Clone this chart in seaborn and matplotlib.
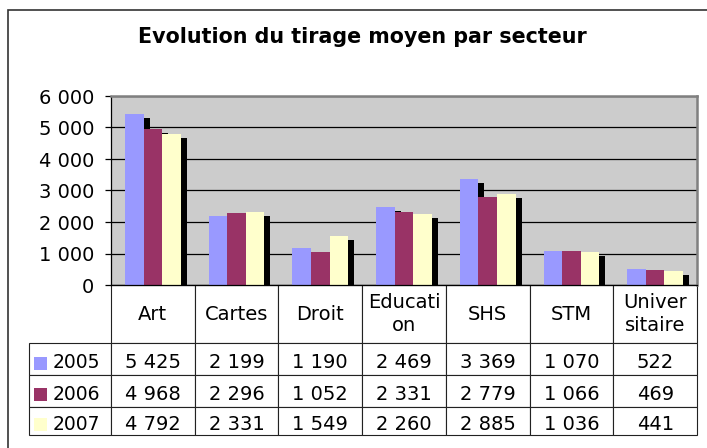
import matplotlib
matplotlib.use("Agg")
import matplotlib.pyplot as plt
import matplotlib.patheffects as pe
import matplotlib.transforms as mtransforms
from matplotlib.patches import Rectangle
from matplotlib.ticker import FuncFormatter, MultipleLocator
import seaborn as sns
import pandas as pd

# ---- data ----
secteurs = ["Art", "Cartes", "Droit", "Education", "SHS", "STM", "Universitaire"]
header_labels = ["Art", "Cartes", "Droit", "Educati\non", "SHS", "STM", "Univer\nsitaire"]
annees = ["2005", "2006", "2007"]
v2005 = [5425, 2199, 1190, 2469, 3369, 1070, 522]
v2006 = [4968, 2296, 1052, 2331, 2779, 1066, 469]
v2007 = [4792, 2331, 1549, 2260, 2885, 1036, 441]
couleurs = ["#9999FF", "#993366", "#FFFFCC"]
titre = "Evolution du tirage moyen par secteur"


def fmt(v):
    return f"{int(round(v)):,}".replace(",", " ")


sns.set_style("white")
plt.rcParams["font.family"] = ["DejaVu Sans"]
plt.rcParams["text.color"] = "black"
plt.rcParams["axes.labelcolor"] = "black"
plt.rcParams["xtick.color"] = "black"
plt.rcParams["ytick.color"] = "black"

W, H = 707, 448
fig = plt.figure(figsize=(W / 100, H / 100), dpi=100)


def fx(px):
    return px / W


def fy(py):
    return 1 - py / H


ax_l, ax_r, ax_t, ax_b = 111, 697, 96, 285
ax = fig.add_axes([fx(ax_l), fy(ax_b), (ax_r - ax_l) / W, (ax_b - ax_t) / H])
ax.set_facecolor("#CCCCCC")

df = pd.DataFrame({
    "secteur": secteurs * 3,
    "annee": [a for a in annees for _ in secteurs],
    "tirage": v2005 + v2006 + v2007,
})
sns.barplot(data=df, x="secteur", y="tirage", hue="annee", order=secteurs,
            hue_order=annees, palette=couleurs, saturation=1, width=0.667,
            legend=False, errorbar=None, linewidth=0, edgecolor="none", ax=ax)

shadow = [pe.SimplePatchShadow(offset=(4.3, -2.9), shadow_rgbFace="black", alpha=1.0),
          pe.Normal()]
for p in ax.patches:
    p.set_path_effects(shadow)

ax.set_ylim(0, 6000)
ax.yaxis.set_major_locator(MultipleLocator(1000))
ax.yaxis.set_major_formatter(FuncFormatter(lambda v, p: fmt(v)))
ax.yaxis.grid(True, color="black", linewidth=0.9)
ax.xaxis.grid(False)
ax.set_axisbelow(True)
ax.tick_params(axis="y", left=True, direction="out", length=4, width=0.9,
               labelsize=14, pad=8, colors="black")
ax.set_xticks([])
ax.set_xlabel("")
ax.set_ylabel("")
for s in ["left", "bottom"]:
    ax.spines[s].set_color("black")
    ax.spines[s].set_linewidth(0.9)
for s in ["top", "right"]:
    ax.spines[s].set_color("#808080")
    ax.spines[s].set_linewidth(1.8)

# ---- data table ----
cell_text = [[fmt(v) for v in row] for row in (v2005, v2006, v2007)]
tbl = ax.table(cellText=cell_text, rowLabels=annees, colLabels=header_labels,
               loc="bottom", cellLoc="center", rowLoc="left")
tbl._autoColumns = [c for c in tbl._autoColumns if c != -1]
tbl.auto_set_font_size(False)
tbl.set_fontsize(14)
axh = ax_b - ax_t
axw = ax_r - ax_l
heights = [58 / axh, 32 / axh, 32 / axh, 28 / axh]
for (r, c), cell in tbl.get_celld().items():
    cell.set_height(heights[r])
    cell.set_width(1 / 7 if c >= 0 else 82 / axw)
    cell.set_edgecolor("#222222")
    cell.set_linewidth(0.8)
    txt = cell.get_text()
    txt.set_color("black")
    if c == -1:
        cell.PAD = 0.29
        txt.set_fontsize(13.5)
    if r == 0:
        txt.set_linespacing(1.3)
    else:
        txt.set_transform(mtransforms.Affine2D().translate(0, -3))

# legend keys in the table
key_tops = [357, 388, 418]
for top, col in zip(key_tops, couleurs):
    fig.add_artist(Rectangle((fx(34), fy(top + 13)), 13 / W, 13 / H,
                             transform=fig.transFigure, facecolor=col,
                             edgecolor="none"))

# outer chart frame (cropped on right / bottom)
fig.add_artist(Rectangle((fx(8), -0.1), 1.2, fy(10) + 0.1, transform=fig.transFigure,
                         fill=False, edgecolor="#333333", linewidth=1.2))

fig.text(fx(362), fy(37), titre, ha="center", va="center", fontsize=14.9,
         fontweight="bold", color="black")

fig.savefig("out.png", dpi=100)
